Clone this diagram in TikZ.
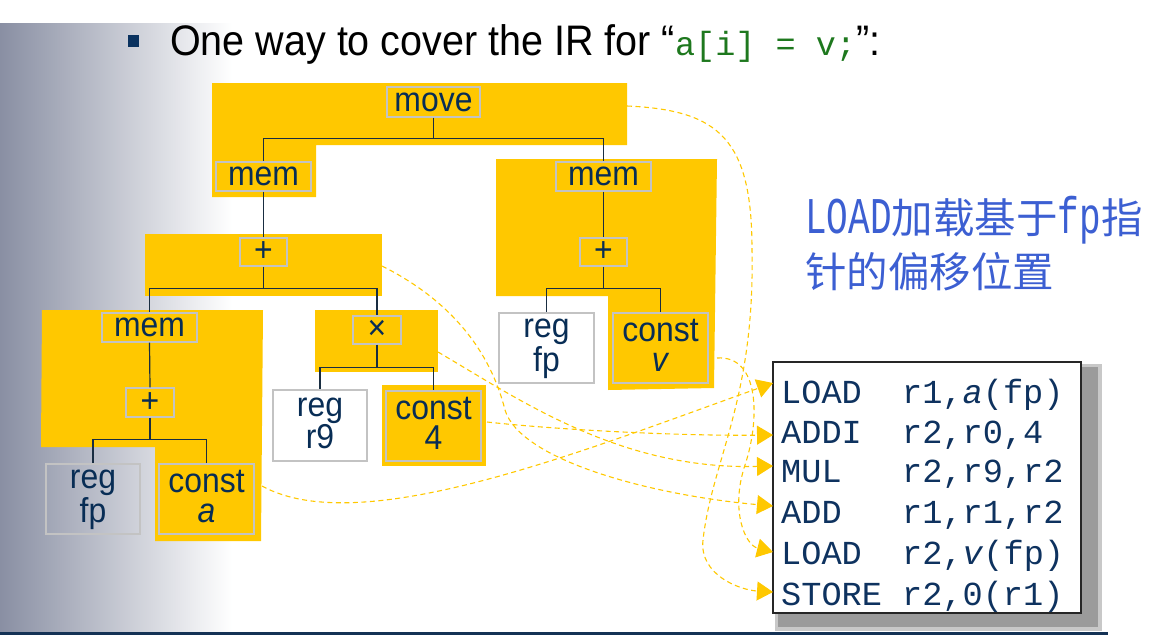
\documentclass[tikz,border=0pt]{standalone}
\usepackage{fontspec}
\setmainfont{Liberation Sans}
\newfontfamily\tallsans[FakeStretch=0.925]{Liberation Sans}
\newfontfamily\codefont{Liberation Mono}
\newfontfamily\cjkfont{Noto Sans CJK SC}
\newfontfamily\notelatinfont[FakeStretch=0.7]{Liberation Mono}
\usetikzlibrary{arrows.meta}

\definecolor{tileyellow}{RGB}{255,200,0}
\definecolor{boxgray}{RGB}{195,195,195}
\definecolor{labelnavy}{RGB}{8,45,85}
\definecolor{treeline}{RGB}{25,45,65}
\definecolor{codenavy}{RGB}{14,50,95}
\definecolor{codegreen}{RGB}{30,120,30}
\definecolor{noteblue}{RGB}{60,95,210}
\definecolor{bulletnavy}{RGB}{10,50,95}
\definecolor{rulenavy}{RGB}{20,50,85}
\definecolor{panelgray}{RGB}{137,143,163}
\definecolor{shadowgray}{RGB}{155,155,155}
\definecolor{shadowsoft}{RGB}{200,200,200}

\newcommand\opc[1]{\makebox[121pt][l]{#1}}
\newcommand\nlat{\notelatinfont\fontsize{51.5}{55}\selectfont}
\newcommand\ncjk{\cjkfont\fontsize{41.5}{55}\selectfont}

\tikzset{
  tile/.style={fill=tileyellow, draw=none},
  tbox/.style={draw=boxgray, line width=1.4pt, inner sep=0pt, text=labelnavy,
    font=\tallsans\fontsize{34.5}{30}\selectfont, align=center},
  twoline/.style={tbox, text height=52pt, text depth=6pt},
  tline/.style={draw=treeline, line width=1.2pt},
  link/.style={draw=tileyellow, line width=1.1pt, dash pattern=on 5pt off 3.5pt,
    -{Triangle[length=16pt,width=19pt]}},
  codeline/.style={anchor=base west, inner sep=0pt, text=codenavy,
    font=\codefont\fontsize{33.6}{40}\selectfont},
}

\begin{document}
\begin{tikzpicture}[x=1pt,y=-1pt]
\useasboundingbox (0,0) rectangle (1156,635);

% side panel and bottom rule
\shade[left color=panelgray, right color=white] (0,23) rectangle (232,632);
\draw[rulenavy, line width=3pt] (0,633) -- (1108,633);

% heading
\node[fill=bulletnavy, minimum width=11.5pt, minimum height=12pt, inner sep=0pt] (bullet) at (133.5,41) {};
\node[anchor=base west, inner sep=0pt, font=\tallsans\fontsize{42.7}{44}\selectfont] (title) at (170,55)
  {One way to cover the IR for “{\color{codegreen}\codefont\fontsize{33.5}{40}\selectfont a[i] = v;}”:};

% instruction tiles
\path[tile] (212,83) -- (627,83) -- (627,145) -- (316,145) -- (316,197) -- (212,197) -- cycle;
\path[tile] (145,234) rectangle (382,296);
\path[tile] (42,310) -- (263,310) -- (261,541) -- (155,541) -- (155,447) -- (41,447) -- cycle;
\path[tile] (315,310) rectangle (438,372);
\path[tile] (382,385) rectangle (486,466);
\path[tile] (496,159) -- (717,159) -- (714,388) -- (608,390) -- (608,296) -- (496,296) -- cycle;

% IR tree nodes
\node[tbox, minimum width=93pt, minimum height=30pt] (move) at (433.5,102) {move};
\node[tbox, minimum width=95pt, minimum height=29pt] (memL) at (263.5,176.5) {mem};
\node[tbox, minimum width=47pt, minimum height=28pt] (plusL) at (263.5,252) {+};
\node[tbox, minimum width=95pt, minimum height=29pt] (memR) at (603.5,176.5) {mem};
\node[tbox, minimum width=47pt, minimum height=28pt] (plusR) at (603.5,252) {+};
\node[tbox, minimum width=95pt, minimum height=29pt] (memA) at (149.5,327.5) {mem};
\node[tbox, minimum width=48pt, minimum height=29pt] (plusA) at (150,402.5) {+};
\node[twoline, minimum width=94pt, minimum height=70pt] (regfpA) at (93,499) {reg\\fp};
\node[twoline, minimum width=95pt, minimum height=70pt] (consta) at (206.5,499) {const\\\textit{a}};
\node[tbox, minimum width=48pt, minimum height=28pt] (times) at (377,330) {×};
\node[twoline, minimum width=94pt, minimum height=71pt] (regr9) at (320,425.5) {reg\\r9};
\node[twoline, minimum width=95pt, minimum height=70pt] (constfour) at (433.5,426) {const\\4};
\node[twoline, minimum width=95pt, minimum height=70pt] (regfpV) at (546.5,348) {reg\\fp};
\node[twoline, minimum width=95pt, minimum height=70pt] (constv) at (660.5,348) {const\\\textit{v}};

% tree edges
\draw[tline] (move.south) -- ++(0,21) -| (memL.north);
\draw[tline] (move.south) ++(0,21) -| (memR.north);
\draw[tline] (memL.south) -- (plusL.north);
\draw[tline] (memR.south) -- (plusR.north);
\draw[tline] (plusL.south) -- ++(0,22) -| (memA.north);
\draw[tline] (plusL.south) ++(0,22) -| (times.north);
\draw[tline] (plusR.south) -- ++(0,22) -| (regfpV.north);
\draw[tline] (plusR.south) ++(0,22) -| (constv.north);
\draw[tline] (memA.south) -- (plusA.north);
\draw[tline] (plusA.south) -- ++(0,22) -| (regfpA.north);
\draw[tline] (plusA.south) ++(0,22) -| (consta.north);
\draw[tline] (times.south) -- ++(0,23) -| (regr9.north);
\draw[tline] (times.south) ++(0,23) -| (constfour.north);

% note
\node[anchor=base west, inner sep=0pt, text=noteblue] (noteA) at (805,233)
  {\nlat LOAD\ncjk 加载基于\nlat fp\ncjk 指};
\node[anchor=base west, inner sep=0pt, text=noteblue] (noteB) at (805,287)
  {\ncjk 针的偏移位置};

% generated code with its shadow
\fill[shadowsoft] (775,364) rectangle (1102,631);
\fill[shadowgray] (778,367) rectangle (1098,627);
\node[draw=black!85, line width=1.3pt, fill=white, minimum width=308pt, minimum height=251pt,
  inner sep=0pt] (code) at (927,487.5) {};
\node[codeline] (lA) at (781,403) {\opc{LOAD}r1,\textit{a}(fp)};
\node[codeline] (lB) at (781,443) {\opc{ADDI}r2,r0,4};
\node[codeline] (lC) at (781,482) {\opc{MUL}r2,r9,r2};
\node[codeline] (lD) at (781,523) {\opc{ADD}r1,r1,r2};
\node[codeline] (lE) at (781,564) {\opc{LOAD}r2,\textit{v}(fp)};
\node[codeline] (lF) at (781,605) {\opc{STORE}r2,0(r1)};

% tile-to-instruction links
\coordinate (aOut) at (262,486);
\coordinate (fourOut) at (487,422);
\coordinate (timesOut) at (438,352);
\coordinate (plusOut) at (382,266);
\coordinate (vOut) at (717,358);
\coordinate (moveOut) at (627,106);
\coordinate (tLoadA) at (773,383);
\coordinate (tAddi) at (773,435);
\coordinate (tMul) at (773,466);
\coordinate (tAdd) at (773,506);
\coordinate (tLoadV) at (773,552);
\coordinate (tStore) at (773,592);

\draw[link] (aOut) .. controls (360,540) and (580,452) .. (tLoadA);
\draw[link] (fourOut) .. controls (560,430) and (680,436) .. (tAddi);
\draw[link] (timesOut) .. controls (520,400) and (620,470) .. (tMul);
\draw[link] (plusOut) .. controls (450,300) and (490,350) .. (505,410)
  .. controls (520,460) and (650,495) .. (tAdd);
\draw[link] (vOut) .. controls (760,355) and (760,420) .. (745,465)
  .. controls (730,510) and (745,545) .. (tLoadV);
\draw[link] (moveOut) .. controls (720,110) and (752,140) .. (752,250)
  .. controls (755,400) and (712,460) .. (703,540)
  .. controls (699,575) and (740,590) .. (tStore);
\end{tikzpicture}
\end{document}
